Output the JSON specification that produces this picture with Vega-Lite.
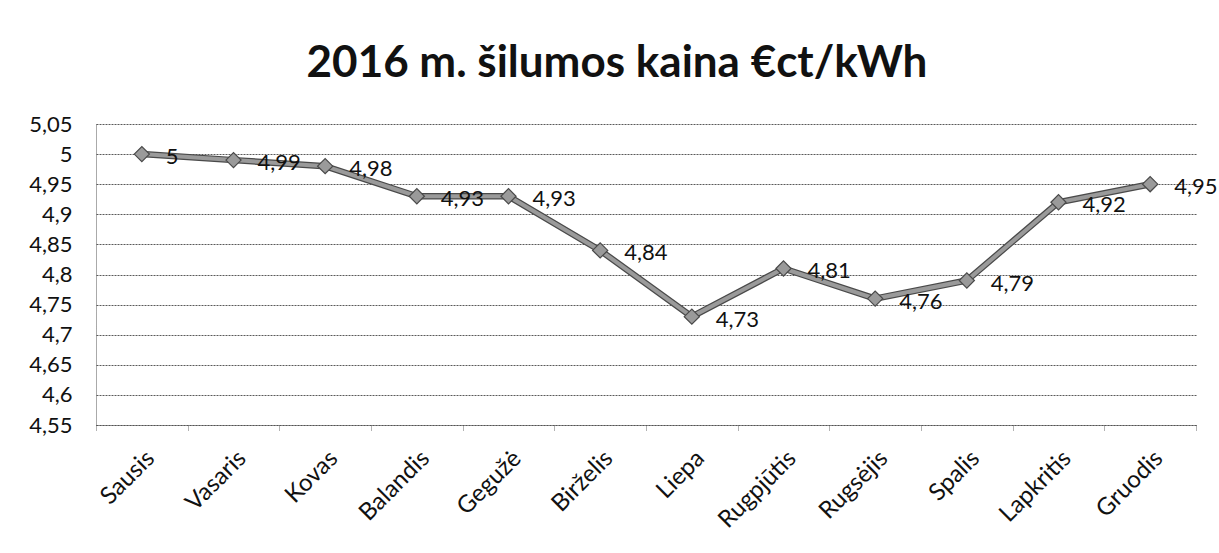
{
  "$schema": "https://vega.github.io/schema/vega-lite/v6.json",
  "autosize": {"type": "none"},
  "width": 1100,
  "height": 301,
  "padding": {"left": 96, "top": 124, "right": 23, "bottom": 128},
  "background": "white",
  "title": {
    "text": "2016 m. šilumos kaina €ct/kWh",
    "font": "Lato",
    "fontSize": 44,
    "fontWeight": "bold",
    "color": "#111111",
    "anchor": "middle",
    "baseline": "alphabetic",
    "offset": 44,
    "dx": -29,
    "dy": 52
  },
  "data": {
    "values": [
      {"month": "Sausis", "price": 5.00},
      {"month": "Vasaris", "price": 4.99},
      {"month": "Kovas", "price": 4.98},
      {"month": "Balandis", "price": 4.93},
      {"month": "Gegužė", "price": 4.93},
      {"month": "Birželis", "price": 4.84},
      {"month": "Liepa", "price": 4.73},
      {"month": "Rugpjūtis", "price": 4.81},
      {"month": "Rugsėjis", "price": 4.76},
      {"month": "Spalis", "price": 4.79},
      {"month": "Lapkritis", "price": 4.92},
      {"month": "Gruodis", "price": 4.95}
    ]
  },
  "encoding": {
    "x": {
      "field": "month",
      "type": "nominal",
      "sort": null,
      "scale": {"paddingInner": 0, "paddingOuter": 0},
      "axis": {
        "title": null,
        "labelAngle": -45,
        "labelFont": "Lato",
        "labelFontSize": 24,
        "labelColor": "#111111",
        "labelPadding": 16,
        "tickBand": "extent",
        "ticks": true,
        "tickSize": 5,
        "tickColor": "#666666",
        "tickDash": [1, 1],
        "domain": true,
        "domainColor": "#555555",
        "domainDash": [2, 1],
        "grid": false
      }
    },
    "y": {
      "field": "price",
      "type": "quantitative",
      "scale": {"domain": [4.55, 5.05], "nice": false, "zero": false},
      "axis": {
        "title": null,
        "values": [4.55, 4.6, 4.65, 4.7, 4.75, 4.8, 4.85, 4.9, 4.95, 5, 5.05],
        "format": "~g",
        "labelFont": "Lato",
        "labelFontSize": 22,
        "labelColor": "#111111",
        "labelPadding": 24,
        "ticks": false,
        "domain": true,
        "domainColor": "#555555",
        "domainDash": [1, 1],
        "grid": true,
        "gridColor": "#5a5a5a",
        "gridDash": [2, 1],
        "gridWidth": 1
      }
    }
  },
  "layer": [
    {"mark": {"type": "line", "color": "#4a4a4a", "strokeWidth": 6.5}},
    {"mark": {"type": "line", "color": "#9a9a9a", "strokeWidth": 4}},
    {"mark": {"type": "point", "shape": "diamond", "size": 230, "filled": true, "color": "#9a9a9a", "stroke": "#4a4a4a", "strokeWidth": 1.2, "opacity": 1}},
    {
      "mark": {"type": "text", "align": "left", "baseline": "middle", "dx": 24, "dy": 3, "font": "Lato", "fontSize": 22, "color": "#111111"},
      "encoding": {"text": {"field": "price", "type": "quantitative", "format": "~g"}}
    }
  ],
  "config": {
    "locale": {"number": {"decimal": ",", "thousands": ".", "grouping": [3], "currency": ["", " €"]}},
    "view": {"stroke": null}
  }
}
